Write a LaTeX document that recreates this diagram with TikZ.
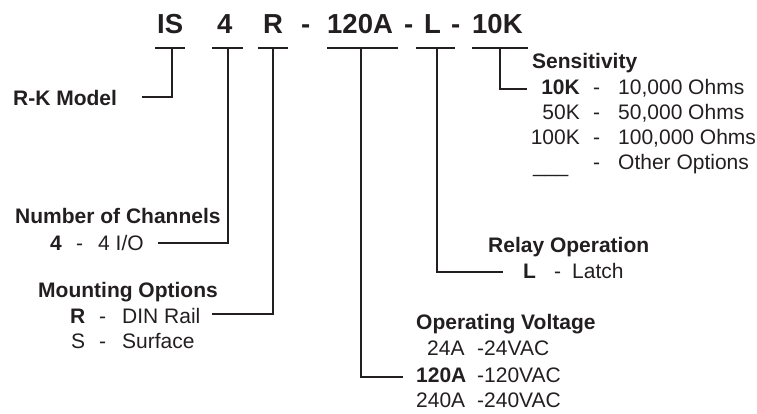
\documentclass[tikz,border=0pt]{standalone}
\usepackage{fontspec}
\setmainfont{Liberation Sans}
\usetikzlibrary{positioning}
\definecolor{ink}{RGB}{35,31,32}

\begin{document}
\begin{tikzpicture}[x=1pt,y=-1pt,
    every node/.style={inner sep=0pt,anchor=base west,text=ink},
    code/.style={font=\fontsize{27.5}{30}\selectfont\bfseries},
    head/.style={font=\fontsize{21}{25}\selectfont\bfseries},
    txt/.style={font=\fontsize{21}{25}\selectfont},
    lead/.style={draw=ink,line width=1.1pt}]

      \useasboundingbox (0,0) rectangle (757,413);

      % code
      \node[code] (is) at (157,33) {IS};
      \node[code] (ch) at (217,33) {4};
      \node[code] (mt) at (263,33) {R};
      \node[code] (d1) at (301,33) {-};
      \node[code] (volt) at (327,33) {120A};
      \node[code] (d2) at (404,33) {-};
      \node[code] (relay) at (424,33) {L};
      \node[code] (d3) at (451,33) {-};
      \node[code] (sens) at (472,33) {10K};

      % bars
      \foreach \n/\a/\b/\m in {is/155/185/172, ch/212/243/228, mt/258/288/273,
          volt/327/398/361, relay/416/455/437, sens/472/528/500}{
        \draw[lead] (\a,48) -- (\b,48);
        \path (\m,48) coordinate (top\n);
      }

      % model
      \node[head] (rk) at (13,105) {R-K Model};
      \path (142,97) coordinate (endis);
      \draw[lead] (topis) |- (endis);

      % channels
      \node[head] (chhead) at (15,223) {Number of Channels};
      \node[txt,font=\fontsize{21}{25}\selectfont\bfseries] (ch4) at (50,250) {4};
      \node[txt] (chd) at (76,250) {-};
      \node[txt] (chio) at (98,250) {4 I/O};
      \path (158,243) coordinate (endch);
      \draw[lead] (topch) |- (endch);

      % mounting
      \node[head] (mthead) at (38,297) {Mounting Options};
      \node[txt,font=\fontsize{21}{25}\selectfont\bfseries] (mtr) at (70,323) {R};
      \node[txt] (mtrd) at (99,323) {-};
      \node[txt] (mtrail) at (122,323) {DIN Rail};
      \node[txt] (mts) at (71,348) {S};
      \node[txt] (mtsd) at (99,348) {-};
      \node[txt] (mtsurf) at (122,348) {Surface};
      \path (212,314) coordinate (endmt);
      \draw[lead] (topmt) |- (endmt);

      % voltage
      \node[head] (vhead) at (416,329) {Operating Voltage};
      \node[txt] (v24) at (427,355) {24A};
      \node[txt] (v24d) at (477,355) {-24VAC};
      \node[txt,font=\fontsize{21}{25}\selectfont\bfseries] (v120) at (416,382) {120A};
      \node[txt] (v120d) at (477,382) {-120VAC};
      \node[txt] (v240) at (416,407) {240A};
      \node[txt] (v240d) at (477,407) {-240VAC};
      \path (403,377) coordinate (endvolt);
      \draw[lead] (topvolt) |- (endvolt);

      % relay
      \node[head] (rhead) at (488,252) {Relay Operation};
      \node[txt,font=\fontsize{21}{25}\selectfont\bfseries] (rl) at (523,278) {L};
      \node[txt] (rld) at (554,278) {-};
      \node[txt] (rlatch) at (572,278) {Latch};
      \path (503,272) coordinate (endrelay);
      \draw[lead] (toprelay) |- (endrelay);

      % sensitivity
      \node[head] (shead) at (532,68) {Sensitivity};
      \node[txt,anchor=base east,font=\fontsize{21}{25}\selectfont\bfseries] (s10) at (580,94) {10K};
      \node[txt] (s10t) at (618,94) {10,000 Ohms};
      \foreach \c/\d/\y in {50K/{50,000 Ohms}/119, 100K/{100,000 Ohms}/144}{
        \node[txt,anchor=base east] (s\y) at (580,\y) {\c};
        \node[txt] (s\y t) at (618,\y) {\d};
      }
      \node[txt] (sblank) at (533,172) {\_\_\_};
      \node[txt] (sother) at (618,169) {Other Options};
      \foreach \y in {94,119,144,169}{
        \node[txt] (sd\y) at (593,\y) {-};
      }
      \path (527,89) coordinate (endsens);
      \draw[lead] (topsens) |- (endsens);

    \end{tikzpicture}
\end{document}
